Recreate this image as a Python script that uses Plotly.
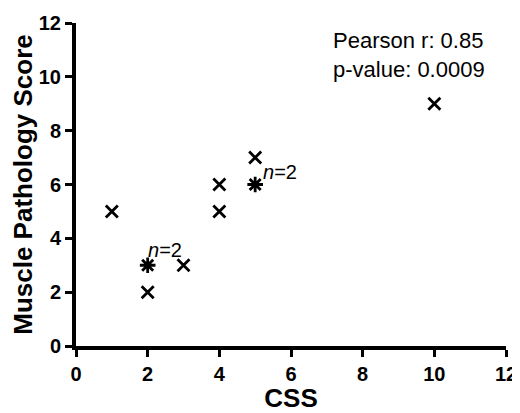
import plotly.graph_objects as go
from collections import Counter

css = [1, 2, 2, 2, 3, 4, 4, 5, 5, 5, 10]
score = [5, 3, 3, 2, 3, 6, 5, 7, 6, 6, 9]
tick_values = [0, 2, 4, 6, 8, 10, 12]
x_title = "CSS"
y_title = "Muscle Pathology Score"
pearson_r = 0.85
p_value = 0.0009

counts = Counter(zip(css, score))
single = [k for k, v in counts.items() if v == 1]
multi = [k for k, v in counts.items() if v > 1]

FONT = "Arial, Liberation Sans, sans-serif"
fig = go.Figure()
fig.add_trace(go.Scatter(
    x=[p[0] for p in single], y=[p[1] for p in single], mode="markers",
    marker=dict(symbol="x-thin-open", size=12, color="black",
                line=dict(width=2.8, color="black")),
    cliponaxis=False, showlegend=False))
fig.add_trace(go.Scatter(
    x=[p[0] for p in multi], y=[p[1] for p in multi], mode="markers",
    marker=dict(symbol="asterisk-open", size=13, color="black",
                line=dict(width=2.8, color="black")),
    cliponaxis=False, showlegend=False))

# label offsets for duplicated points (style only)
offsets = [dict(xanchor="left", yanchor="bottom", xshift=-2, yshift=2),
           dict(xanchor="left", yanchor="middle", xshift=6, yshift=13)]
for i, p in enumerate(multi):
    o = offsets[i % len(offsets)]
    fig.add_annotation(x=p[0], y=p[1], text=f"<i>n</i>={counts[p]}",
                       showarrow=False, font=dict(family=FONT, size=20, color="black"), **o)

fig.add_annotation(xref="paper", yref="paper", x=0.593, y=0.99, xanchor="left", yanchor="top",
                   align="left", showarrow=False,
                   text=f"Pearson r: {pearson_r}<br>p-value: {p_value}",
                   font=dict(family=FONT, size=22, color="black"))

axis_common = dict(range=[0, 12], tickmode="array", tickvals=tick_values,
                   ticktext=[f"<b>{v}</b>" for v in tick_values],
                   showline=True, linewidth=4, linecolor="black",
                   ticks="outside", ticklen=7, tickwidth=3, tickcolor="black",
                   showgrid=False, zeroline=False, automargin=False,
                   tickfont=dict(family=FONT, size=20, color="black"))
fig.update_xaxes(**axis_common,
                 title=dict(text=f"<b>{x_title}</b>", font=dict(family=FONT, size=26, color="black"), standoff=9))
fig.update_yaxes(**axis_common,
                 title=dict(text=f"<b>{y_title}</b>", font=dict(family=FONT, size=26, color="black"), standoff=9))

# page body has an 8px margin, so the figure is 8px smaller on each axis
fig.update_layout(width=512, height=405, margin=dict(l=68, r=14, t=15, b=67),
                  plot_bgcolor="white", paper_bgcolor="white")
fig.write_html("out.html")
